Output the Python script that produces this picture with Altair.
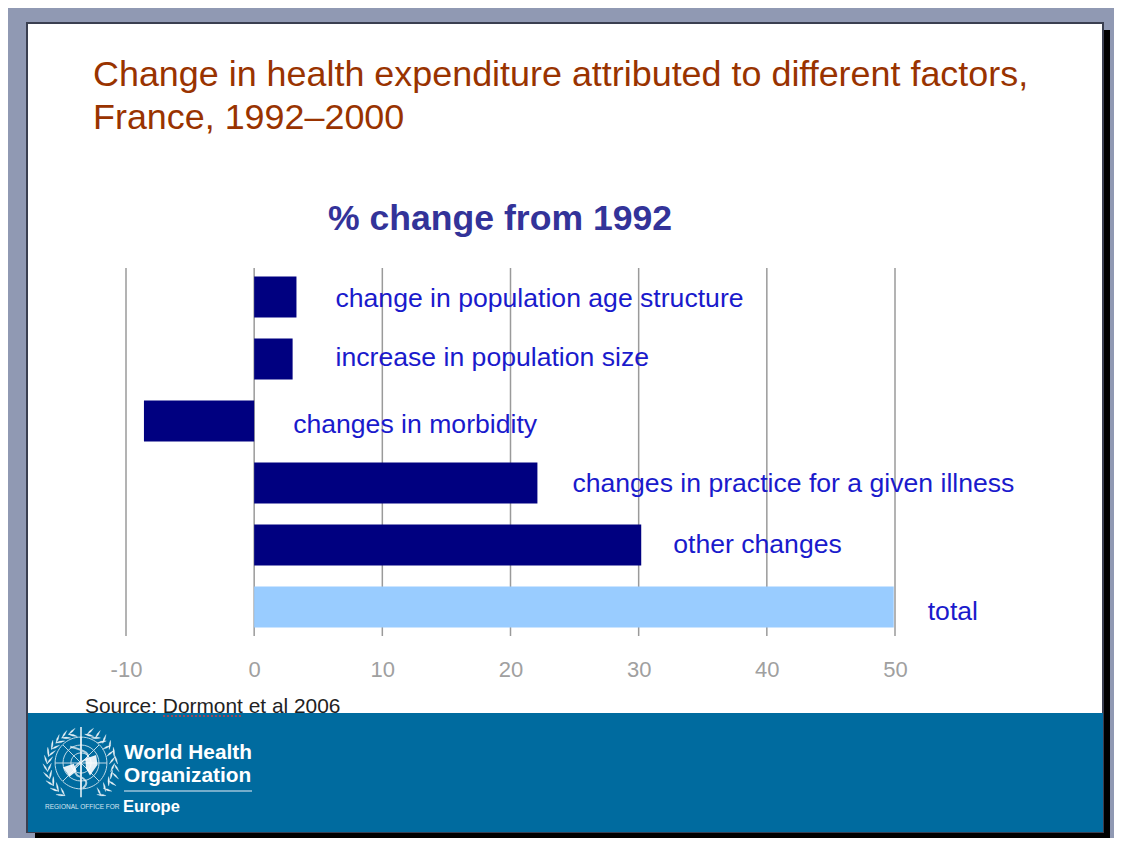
import math
import altair as alt
import pandas as pd

labels = ["change in population age structure", "increase in population size", "changes in morbidity",
          "changes in practice for a given illness", "other changes", "total"]
values = [3.3, 3.0, -8.6, 22.1, 30.2, 49.9]
label_gaps = [39, 43, 39, 35, 32, 34]
label_shifts = [2, -1, 3.5, 1, 0, 5]
ticks = [-10, 0, 10, 20, 30, 40, 50]

OX, OY = 126, 268
FONT = "Liberation Sans"

def rect(x0, y0, x1, y1, fill, **kw):
    return alt.Chart(pd.DataFrame({"a": [0]})).mark_rect(fill=fill, **kw).encode(
        x=alt.value(x0 - OX), x2=alt.value(x1 - OX), y=alt.value(y0 - OY), y2=alt.value(y1 - OY))

def text(s, px, py, size, color, weight="normal", font=FONT):
    return alt.Chart(pd.DataFrame({"t": [s]})).mark_text(
        align="left", baseline="alphabetic", fontSize=size, color=color, fontWeight=weight, font=font
    ).encode(x=alt.value(px - OX), y=alt.value(py - OY), text="t:N")

def hline(x0, x1, py, color, width, **kw):
    return alt.Chart(pd.DataFrame({"a": [0]})).mark_rule(color=color, strokeWidth=width, **kw).encode(
        x=alt.value(x0 - OX), x2=alt.value(x1 - OX), y=alt.value(py - OY))

def symbol(path, px, py, radius, **kw):
    return alt.Chart(pd.DataFrame({"a": [0]})).mark_point(shape=path, size=(2 * radius) ** 2, **kw).encode(
        x=alt.value(px - OX), y=alt.value(py - OY))

# WHO emblem drawn as symbol shapes
def leaf(cx, cy, ang, l=0.13, w=0.045):
    dx, dy = math.cos(ang), math.sin(ang)
    nx, ny = -dy, dx
    return (f"M{cx-dx*l:.3f},{cy-dy*l:.3f}"
            f"Q{cx+nx*w:.3f},{cy+ny*w:.3f} {cx+dx*l:.3f},{cy+dy*l:.3f}"
            f"Q{cx-nx*w:.3f},{cy-ny*w:.3f} {cx-dx*l:.3f},{cy-dy*l:.3f}Z")

leaves = ""
for side in (-1, 1):
    for deg in range(-55, 76, 13):
        a = math.radians(deg)
        for r, off in ((0.88, 0.5), (0.99, -0.5)):
            cx = side * r * math.cos(a)
            cy = -r * math.sin(a) + 0.08
            t = math.pi / 2 + side * (a + off)
            leaves += leaf(cx, cy, t if side > 0 else -t)

def ring(r):
    return f"M{-r},0A{r},{r} 0 1,0 {r},0A{r},{r} 0 1,0 {-r},0Z"

rings = ring(0.72) + ring(0.5) + ring(0.28) + "M-0.72,0L0.72,0M0,-0.72L0,0.72M-0.5,-0.5L0.5,0.5M0.5,-0.5L-0.5,0.5"
staff = "M0,-1L0,0.95M-0.3,-0.45Q0.35,-0.3 0.15,-0.1Q-0.35,0.1 -0.1,0.35Q0.3,0.5 0.05,0.7"
masses = ("M-0.5,0.12L-0.2,0.02L-0.12,0.22L-0.32,0.38Z"
          "M0.12,-0.12L0.42,-0.22L0.46,0.05L0.25,0.35L0.14,0.15Z")

df = pd.DataFrame({"label": labels, "value": values})
x_scale = alt.Scale(domain=[-10, 50], nice=False, zero=False)
y_enc = alt.Y("label:N", sort=labels, axis=None, scale=alt.Scale(paddingInner=0.3, paddingOuter=0.118))

grid = alt.Chart(pd.DataFrame({"tick": ticks})).mark_rule(color="#9A9A9A", strokeWidth=1.5).encode(
    x=alt.X("tick:Q", scale=x_scale, axis=alt.Axis(
        values=ticks, title=None, domain=False, ticks=False, grid=False, zindex=1,
        labelExpr="datum.value",
        labelFontSize=22, labelColor="#A0A0A0", labelFont=FONT, labelPadding=23, labelFlush=False))
)

bars = alt.Chart(df).mark_bar(size=41).encode(
    x=alt.X("value:Q", scale=x_scale),
    x2=alt.datum(0),
    y=y_enc,
    color=alt.Color("label:N", legend=None, scale=alt.Scale(
        domain=labels, range=["#000080"] * 5 + ["#99CCFF"])),
)

bar_labels = []
for name, gap, shift in zip(labels, label_gaps, label_shifts):
    bar_labels.append(
        alt.Chart(df[df["label"] == name]).transform_calculate(anchor="max(datum.value, 0)")
        .mark_text(align="left", baseline="middle", dx=gap, dy=shift, fontSize=26.6, color="#1A1ACC", font=FONT)
        .encode(x=alt.X("anchor:Q", scale=x_scale), y=y_enc, text="label:N")
    )

deco = [
    rect(35, 30, 1110, 839, "#000000"),
    rect(27, 23, 1103, 832, "#FFFFFF", stroke="#3A3F50", strokeWidth=2),
    rect(28, 713, 1103, 832, "#006B9F"),
]

overlay = [
    text("Change in health expenditure attributed to different factors,", 93, 86, 35.9, "#993300"),
    text("France, 1992\u20132000", 93, 129, 35.9, "#993300"),
    text("% change from 1992", 328, 230, 35.6, "#333399", weight="bold"),
    text("Source: Dormont et al 2006", 85, 713, 20.9, "#222222"),
    hline(163, 241, 716, "#C83C46", 1.5, strokeDash=[2, 2]),
    symbol(leaves, 81, 763, 36, filled=True, fill="#FFFFFF", stroke="#FFFFFF", strokeWidth=0.3, opacity=0.9),
    symbol(rings, 81, 763, 36, filled=False, stroke="#FFFFFF", strokeWidth=1, opacity=0.75),
    symbol(masses, 81, 763, 36, filled=True, fill="#FFFFFF", strokeWidth=0, opacity=0.9),
    symbol(staff, 81, 763, 36, filled=False, stroke="#FFFFFF", strokeWidth=2),
    text("World Health", 124, 759, 20.8, "#FFFFFF", weight="bold"),
    text("Organization", 124, 782, 20.8, "#FFFFFF", weight="bold"),
    hline(124, 252, 791, "#9CC3DA", 1.5),
    text("REGIONAL OFFICE FOR", 45, 809, 6.5, "#D6E6F0"),
    text("Europe", 123, 812, 16.5, "#FFFFFF", weight="bold"),
]

chart = alt.layer(*deco, grid, bars, *bar_labels, *overlay).resolve_scale(color="independent").properties(
    width=769, height=368, background="#9099B3",
    padding={"left": OX - 8, "top": OY - 8, "right": 1106 - (OX - 8) - 769, "bottom": 830 - (OY - 8) - 368},
    autosize=alt.AutoSizeParams(type="none"),
).configure_view(stroke=None)

chart.save("out.html", embed_options={"renderer": "svg", "actions": False})
